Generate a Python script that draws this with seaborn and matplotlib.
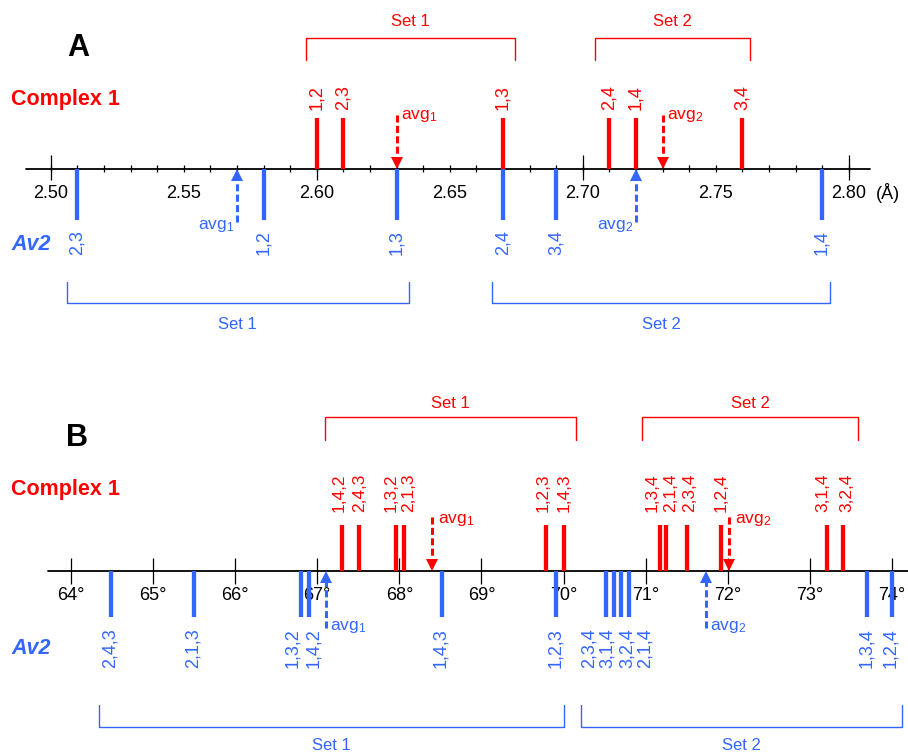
import numpy as np
import matplotlib
matplotlib.use("Agg")
import matplotlib.pyplot as plt
import seaborn as sns

sns.set_theme(style="white")
plt.rcParams["font.family"] = ["Liberation Sans", "DejaVu Sans"]
plt.rcParams["mathtext.default"] = "regular"

RED = "#ff0000"
BLUE = "#3366ff"

# ---- panel A : distances (Å) ----
complex_a_pairs = ["1,2", "2,3", "1,3", "2,4", "1,4", "3,4"]
complex_a_dist = [2.600, 2.610, 2.670, 2.710, 2.720, 2.760]
av2_a_pairs = ["2,3", "1,2", "1,3", "2,4", "3,4", "1,4"]
av2_a_dist = [2.510, 2.580, 2.630, 2.670, 2.690, 2.790]
complex_a_avg = [2.630, 2.730]
av2_a_avg = [2.570, 2.720]
complex_a_sets = [(2.596, 2.6745), (2.7046, 2.7629)]
av2_a_sets = [(2.506, 2.6346), (2.666, 2.793)]
a_tick_labels = ["2.50", "2.55", "2.60", "2.65", "2.70", "2.75", "2.80"]

# ---- panel B : angles (deg) ----
complex_b_triples = ["1,4,2", "2,4,3", "1,3,2", "2,1,3", "1,2,3", "1,4,3",
                     "1,3,4", "2,1,4", "2,3,4", "1,2,4", "3,1,4", "3,2,4"]
complex_b_angle = [67.30, 67.51, 67.96, 68.05, 69.79, 70.01,
                   71.17, 71.25, 71.50, 71.92, 73.21, 73.40]
av2_b_triples = ["2,4,3", "2,1,3", "1,3,2", "1,4,2", "1,4,3", "1,2,3",
                 "2,3,4", "3,1,4", "3,2,4", "2,1,4", "1,3,4", "1,2,4"]
av2_b_angle = [64.49, 65.50, 66.80, 66.90, 68.52, 69.91,
               70.52, 70.61, 70.70, 70.80, 73.69, 74.00]
complex_b_avg = [68.40, 72.02]
av2_b_avg = [67.11, 71.73]
complex_b_sets = [(67.09, 70.15), (70.95, 73.59)]
av2_b_sets = [(64.34, 70.01), (70.21, 74.12)]
b_ticks = [64, 65, 66, 67, 68, 69, 70, 71, 72, 73, 74]

# label nudges (pixels) so crowded labels don't collide
complex_b_nudge = [-3, 0, -5, 5, -3.5, 0, -8, 4.5, 3, 0, -4, 4]
av2_b_nudge = [-1.5, -1, -8, 5, -1, -1, -17, -6, 6, 16, 0, -1.5]

W, H = 908, 755
fig = plt.figure(figsize=(W / 100, H / 100), dpi=100)
axA = fig.add_axes([0, 385 / H, 1, 370 / H])
axB = fig.add_axes([0, 0, 1, 385 / H])
axA.set_xlim(2.48094, 2.82229)
axA.set_ylim(370, 0)
axB.set_xlim(63.1352, 74.1949)
axB.set_ylim(755, 370)
for ax in (axA, axB):
    ax.axis("off")

PX = 0.72  # points per pixel


def bars(ax, xs, labels, y0, y1, ylab, color, va, fs, nudge=None):
    ax.vlines(xs, y0, y1, colors=color, lw=3.1, zorder=3, capstyle="butt")
    if nudge is None:
        nudge = [0] * len(xs)
    for x, lab, dx in zip(xs, labels, nudge):
        ax.annotate(lab, xy=(x, ylab), xytext=(dx * PX, 0),
                    textcoords="offset points", rotation=90, ha="center",
                    va=va, color=color, fontsize=fs)


def avg_arrow(ax, x, y_axis, y_far, color, text, ylab, dx, ha):
    d = 1 if y_far > y_axis else -1
    ax.plot([x, x], [y_far, y_axis + d * 11], color=color, lw=2.2,
            ls=(0, (2.3, 1.1)), zorder=4, solid_capstyle="butt")
    ax.plot(x, y_axis + d * 6, marker="^" if d > 0 else "v", ms=8.6,
            mew=0, color=color, zorder=4)
    ax.annotate(text, xy=(x, ylab), xytext=(dx, 0), textcoords="offset points",
                ha=ha, va="center", color=color, fontsize=12.5)


def bracket(ax, x0, x1, ybar, yleg, color, text, ytext):
    ax.plot([x0, x0, x1, x1], [yleg, ybar, ybar, yleg], color=color, lw=1.0)
    ax.text((x0 + x1) / 2, ytext, text, ha="center", va="center",
            color=color, fontsize=12)


def row_titles(ax, letter, x_letter, y_letter, y_complex, y_av2):
    ax.annotate(letter, xy=(x_letter / W, y_letter),
                xycoords=("axes fraction", "data"), ha="center", va="center",
                fontsize=22, fontweight="bold", color="black")
    ax.annotate("Complex 1", xy=(0, y_complex), xycoords=("axes fraction", "data"),
                xytext=(8, 0), textcoords="offset points", ha="left", va="center",
                fontsize=15.5, fontweight="bold", color=RED)
    ax.annotate("Av2", xy=(0, y_av2), xycoords=("axes fraction", "data"),
                xytext=(8.5, 0), textcoords="offset points", ha="left", va="center",
                fontsize=15.5, fontweight="bold", style="italic", color=BLUE)


# ---- panel A ----
ya = 169
axA.plot([2.4907, 2.808], [ya, ya], color="black", lw=1.3, zorder=2)
axA.vlines(np.arange(2.50, 2.805, 0.01), ya - 3.5, ya + 3.5, colors="black", lw=0.9)
axA.vlines(np.arange(2.50, 2.805, 0.10), ya - 14, ya + 11, colors="black", lw=0.9)
for v, lab in zip(np.arange(2.50, 2.805, 0.05), a_tick_labels):
    axA.text(v, 193, lab, ha="center", va="center", fontsize=13, color="black")
axA.text(2.8146, 193, "(Å)", ha="center", va="center", fontsize=13, color="black")

bars(axA, complex_a_dist, complex_a_pairs, ya, 118, 110, RED, "bottom", 13)
bars(axA, av2_a_dist, av2_a_pairs, ya, 220, 230, BLUE, "top", 13)
for i, v in enumerate(complex_a_avg):
    avg_arrow(axA, v, ya, 115, RED, f"avg$_{i + 1}$", 116, 3, "left")
for i, v in enumerate(av2_a_avg):
    avg_arrow(axA, v, ya, 222, BLUE, f"avg$_{i + 1}$", 226, -2, "right")
for i, (a, b) in enumerate(complex_a_sets):
    bracket(axA, a, b, 38, 60, RED, f"Set {i + 1}", 22)
for i, (a, b) in enumerate(av2_a_sets):
    bracket(axA, a, b, 303, 282, BLUE, f"Set {i + 1}", 325)
row_titles(axA, "A", 78, 48, 100, 244)

# ---- panel B ----
yb = 571
axB.plot([63.72, 74.3], [yb, yb], color="black", lw=1.3, zorder=2)
axB.vlines(b_ticks, yb - 13, yb + 13, colors="black", lw=0.9)
for t in b_ticks:
    axB.text(t, 596, f"{t}°", ha="center", va="center", fontsize=13, color="black")

bars(axB, complex_b_angle, complex_b_triples, yb, 525, 512, RED, "bottom", 12.5,
     complex_b_nudge)
bars(axB, av2_b_angle, av2_b_triples, yb, 617, 628, BLUE, "top", 13, av2_b_nudge)
for i, v in enumerate(complex_b_avg):
    avg_arrow(axB, v, yb, 517, RED, f"avg$_{i + 1}$", 520, 4, "left")
for i, v in enumerate(av2_b_avg):
    avg_arrow(axB, v, yb, 628, BLUE, f"avg$_{i + 1}$", 627, 3, "left")
for i, (a, b) in enumerate(complex_b_sets):
    bracket(axB, a, b, 417, 440, RED, f"Set {i + 1}", 403)
for i, (a, b) in enumerate(av2_b_sets):
    bracket(axB, a, b, 727, 705, BLUE, f"Set {i + 1}", 745)
row_titles(axB, "B", 77, 438, 490, 649)

fig.savefig("out.png", dpi=100)
